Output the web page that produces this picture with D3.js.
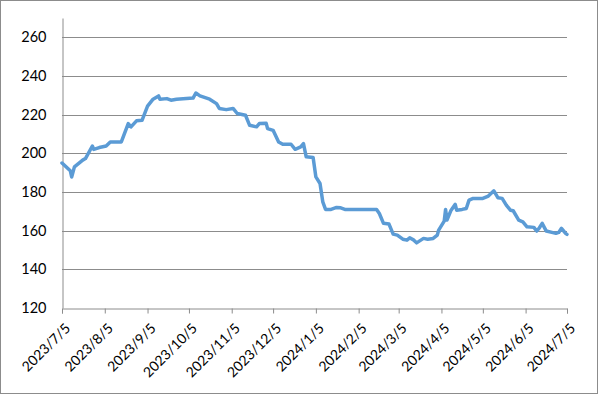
<!DOCTYPE html>
<html>
<head>
<meta charset="utf-8">
<script src="https://cdn.jsdelivr.net/npm/d3@7"></script>
<style>
  body { margin: 0; background: #fff; }
  text { font-family: Lato, "Liberation Sans", sans-serif; fill: #000; }
</style>
</head>
<body>
<div id="chart"></div>
<script>
// price series
var dates = ["2023-07-05","2023-07-11","2023-07-12","2023-07-14","2023-07-20","2023-07-22","2023-07-27","2023-07-28",
  "2023-08-01","2023-08-06","2023-08-09","2023-08-17","2023-08-22","2023-08-24","2023-08-28","2023-09-01",
  "2023-09-05","2023-09-09","2023-09-13","2023-09-14","2023-09-19","2023-09-22","2023-09-26","2023-10-08",
  "2023-10-10","2023-10-13","2023-10-20","2023-10-25","2023-10-27","2023-11-01","2023-11-06","2023-11-09",
  "2023-11-15","2023-11-18","2023-11-23","2023-11-25","2023-11-30","2023-12-01","2023-12-05","2023-12-09",
  "2023-12-12","2023-12-18","2023-12-21","2023-12-25","2023-12-27","2023-12-29","2024-01-03","2024-01-05",
  "2024-01-08","2024-01-10","2024-01-12","2024-01-16","2024-01-20","2024-01-23","2024-01-26","2024-02-18",
  "2024-02-20","2024-02-23","2024-02-27","2024-03-01","2024-03-04","2024-03-08","2024-03-11","2024-03-13",
  "2024-03-16","2024-03-18","2024-03-23","2024-03-26","2024-03-30","2024-04-02","2024-04-03","2024-04-07",
  "2024-04-08","2024-04-09","2024-04-12","2024-04-15","2024-04-16","2024-04-20","2024-04-23","2024-04-25",
  "2024-04-28","2024-05-05","2024-05-09","2024-05-13","2024-05-16","2024-05-19","2024-05-22","2024-05-25",
  "2024-05-27","2024-05-31","2024-06-03","2024-06-06","2024-06-11","2024-06-13","2024-06-15","2024-06-17",
  "2024-06-20","2024-06-24","2024-06-27","2024-06-29","2024-07-01","2024-07-04","2024-07-05"];
var prices = [195,191,187.8,193,196.5,197.3,203.8,202,
  203,203.8,205.9,205.9,215.4,213.7,216.8,217.1,
  224.4,228,229.7,228,228.3,227.5,228,228.6,
  231.2,229.7,228,225.7,223.2,222.6,223.2,220.6,
  219.7,214.5,213.7,215.4,215.5,212.8,211.9,205.9,
  204.7,204.7,202.1,203.3,205,198.2,197.8,187.8,
  184.4,174.9,171,171,172,171.8,171,171,
  168.9,163.8,163.4,158.2,157.7,155.6,155.1,156.3,
  155.1,153.7,156,155.6,156,157.7,160.3,164.9,
  171,165.5,170.6,173.6,170.6,171,171.5,175.8,
  176.7,176.7,177.9,180.6,177,176.7,173.2,170.6,
  170.3,165.5,164.6,162,161.7,159.8,161.5,163.8,
  159.8,159.1,158.6,159.1,161.2,158.6,158.1];

var yTicks = [120,140,160,180,200,220,240,260];
var xTicks = ["2023-07-05","2023-08-05","2023-09-05","2023-10-05","2023-11-05","2023-12-05","2024-01-05",
  "2024-02-05","2024-03-05","2024-04-05","2024-05-05","2024-06-05","2024-07-05"];

var W = 600, H = 395;
var margin = {top: 18, right: 33, bottom: 87, left: 62},
  width = W - margin.left - margin.right,
  height = H - margin.top - margin.bottom;

var parse = d3.timeParse("%Y-%m-%d");
var fmt = d3.timeFormat("%Y/%-m/%-d");
var data = dates.map((d, i) => ({date: parse(d), value: prices[i]}));

var svg = d3.select("#chart")
.append("svg")
  .attr("width", W)
  .attr("height", H);

// outer frame
svg.append("rect")
  .attr("x", 0.5).attr("y", 0.5)
  .attr("width", W - 3).attr("height", H - 2)
  .attr("fill", "#fff")
  .attr("stroke", "#8c8c8c");

var g = svg.append("g")
  .attr("transform", "translate(" + margin.left + "," + margin.top + ")");

var x = d3.scaleTime()
  .domain([parse(xTicks[0]), parse(xTicks[xTicks.length - 1])])
  .range([0, width]);

var y = d3.scaleLinear()
  .domain([120, 270])
  .range([height, 0]);

// gridlines
g.append("g")
  .selectAll("line")
  .data(yTicks.slice(1))
  .enter().append("line")
  .attr("x1", 0).attr("x2", width)
  .attr("y1", d => Math.round(y(d)) + 0.5)
  .attr("y2", d => Math.round(y(d)) + 0.5)
  .attr("stroke", "#8c8c8c");

// y axis
var yAxis = g.append("g")
  .attr("transform", "translate(0.5,0)")
  .call(d3.axisLeft(y).tickValues(yTicks).tickSize(0).tickPadding(16));
yAxis.select(".domain").attr("stroke", "#8c8c8c");
yAxis.selectAll("text")
  .style("font-size", "14.5px");

// x axis
var xAxis = g.append("g")
  .attr("transform", "translate(0," + (height + 0.5) + ")")
  .call(d3.axisBottom(x).tickValues(xTicks.map(parse)).tickSize(5).tickFormat(fmt));
xAxis.select(".domain").attr("stroke", "#8c8c8c");
xAxis.selectAll("line").attr("stroke", "#8c8c8c");
xAxis.selectAll("text")
  .style("font-size", "14px")
  .attr("text-anchor", "end")
  .attr("dy", 0)
  .attr("transform", "translate(3,15) rotate(-45)");

// price line
var line = d3.line()
  .x(d => x(d.date))
  .y(d => y(d.value));

g.append("path")
  .datum(data)
  .attr("fill", "none")
  .attr("stroke", "#5b9bd5")
  .attr("stroke-width", 3.5)
  .attr("stroke-linejoin", "round")
  .attr("stroke-linecap", "round")
  .attr("d", line);
</script>
</body>
</html>
